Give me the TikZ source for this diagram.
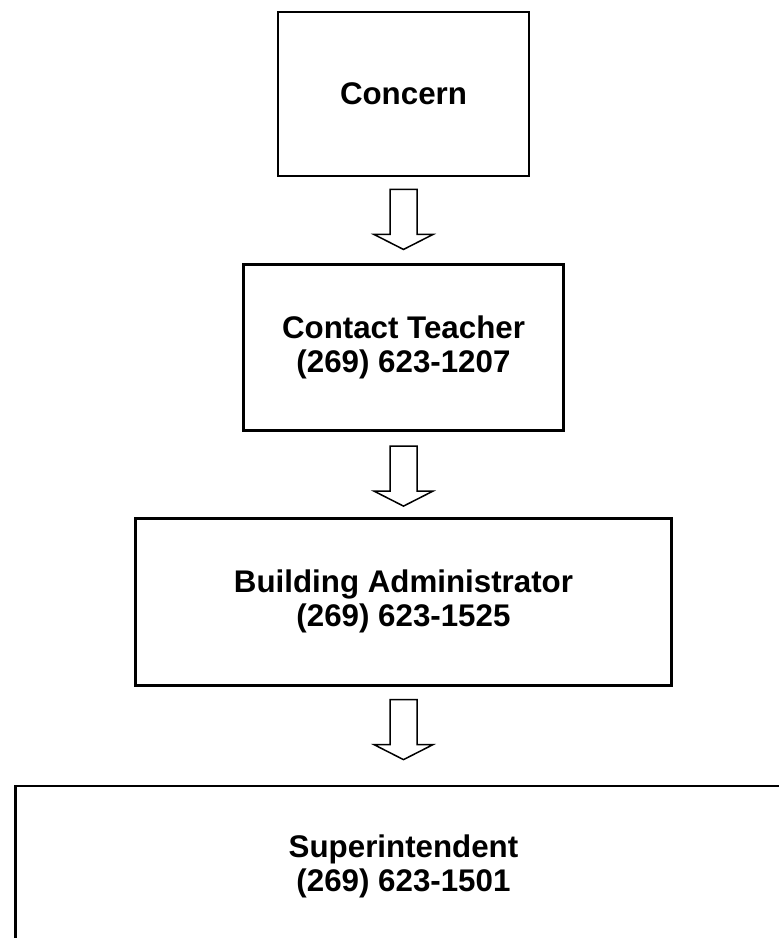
\documentclass[tikz,border=0pt]{standalone}
\usepackage{fontspec}
\setmainfont{Liberation Sans}
\usetikzlibrary{calc, positioning}

\begin{document}
\begin{tikzpicture}[
		x=1pt, y=-1pt, % work in pixels, y pointing down
		node distance=86pt,
		stepbox/.style={
				draw,
				rectangle,
				line width=2.6pt,
				align=center,
				inner sep=0pt,
				font=\fontsize{31.3}{34}\selectfont\bfseries
			},
		downarrow/.pic={
				\draw[line width=1.5pt, line join=miter]
				(-13.5,-30) -- (13.5,-30) -- (13.5,15) -- (29.5,15)
				-- (0,30) -- (-29.5,15) -- (-13.5,15) -- cycle;
			}
	]
	\useasboundingbox (0,0) rectangle (779,938);
	\clip (0,0) rectangle (779,938);

	% Nodes
	\node[stepbox, minimum width=251pt, minimum height=164pt] (concern) at (403.5,94) {Concern};
	\node[stepbox, below=86pt of concern, minimum width=320pt, minimum height=166pt] (teacher) {Contact Teacher\\(269) 623-1207};
	\node[stepbox, below=85pt of teacher, minimum width=536pt, minimum height=167pt] (admin) {Building Administrator\\(269) 623-1525};
	\node[stepbox, below=98pt of admin, minimum width=776pt, minimum height=162pt] (super) {Superintendent\\(269) 623-1501};

	% Arrows
	\coordinate (arr1) at ($(concern.south)!0.49!(teacher.north)$);
	\coordinate (arr2) at ($(teacher.south)!0.52!(admin.north)$);
	\coordinate (arr3) at ($(admin.south)!0.44!(super.north)$);
	\pic at (arr1) {downarrow};
	\pic at (arr2) {downarrow};
	\pic at (arr3) {downarrow};
\end{tikzpicture}
\end{document}
